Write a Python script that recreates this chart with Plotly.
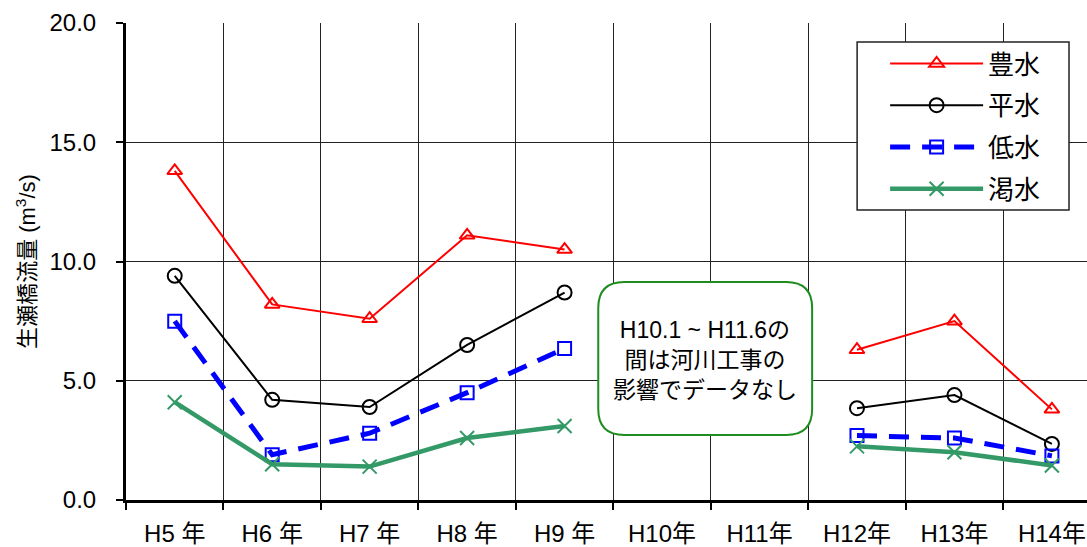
import plotly.graph_objects as go

categories = ["H5 年", "H6 年", "H7 年", "H8 年", "H9 年", "H10年", "H11年", "H12年", "H13年", "H14年"]
houSui = [13.8, 8.2, 7.6, 11.1, 10.5, None, None, 6.3, 7.5, 3.8]   # 豊水
heiSui = [9.4, 4.2, 3.9, 6.5, 8.7, None, None, 3.85, 4.4, 2.35]   # 平水
teiSui = [7.5, 1.9, 2.8, 4.5, 6.35, None, None, 2.7, 2.6, 1.85]   # 低水
katSui = [4.1, 1.5, 1.4, 2.6, 3.1, None, None, 2.25, 2.0, 1.45]   # 渇水
y_ticks = [0, 5, 10, 15, 20]
note = "H10.1 ~ H11.6の<br>間は河川工事の<br>影響でデータなし"

FONT = "Liberation Sans, Arial, Noto Sans CJK JP"
xs = list(range(len(categories)))

W, H = 1087, 547
L, T, B = 125.5, 23, 47
XMAX = 9.36
plot_w = W - L
plot_h = H - T - B
cat_w = plot_w / (XMAX + 0.5)

def px2x(px):
    return (px - L) / cat_w - 0.5

def py2y(py):
    return (H - B - py) / plot_h * 20

def px2paper(px):
    return (px - L) / plot_w

def py2paper(py):
    return (H - B - py) / plot_h

fig = go.Figure()
fig.add_trace(go.Scatter(
    x=xs, y=houSui, name="豊水", mode="lines+markers", legendgroup="a",
    line=dict(color="#FF0000", width=2),
    marker=dict(symbol="triangle-up-open", size=13, color="#FF0000", line=dict(width=2)),
))
fig.add_trace(go.Scatter(
    x=xs, y=heiSui, name="平水", mode="lines+markers", legendgroup="b",
    line=dict(color="#000000", width=2),
    marker=dict(symbol="circle-open", size=14, color="#000000", line=dict(width=2)),
))
fig.add_trace(go.Scatter(
    x=xs, y=teiSui, name="低水", mode="lines+markers", legendgroup="c",
    line=dict(color="#0000FF", width=5, dash="20px,12px"),
    marker=dict(symbol="square-open", size=13, color="#0000FF", line=dict(width=2)),
))
fig.add_trace(go.Scatter(
    x=xs, y=katSui, name="渇水", mode="lines+markers", legendgroup="d",
    line=dict(color="#339966", width=4.5),
    marker=dict(symbol="x-thin-open", size=14, color="#339966", line=dict(width=2, color="#339966")),
))

# rounded note box
x0, x1 = px2x(598), px2x(812)
y0, y1 = py2y(435), py2y(282)
r = 26
rx = r / cat_w
ry = r / plot_h * 20
path = (f"M{x0+rx},{y1} L{x1-rx},{y1} Q{x1},{y1} {x1},{y1-ry} "
        f"L{x1},{y0+ry} Q{x1},{y0} {x1-rx},{y0} L{x0+rx},{y0} "
        f"Q{x0},{y0} {x0},{y0+ry} L{x0},{y1-ry} Q{x0},{y1} {x0+rx},{y1} Z")
fig.add_shape(type="path", path=path, xref="x", yref="y",
              line=dict(color="#1E8C1E", width=2), fillcolor="white", layer="above")
fig.add_annotation(x=(x0 + x1) / 2, y=py2y(360), xref="x", yref="y",
                   text=note, showarrow=False,
                   font=dict(family=FONT, size=23, color="black"), align="center")

# legend frame
fig.add_shape(type="rect", xref="paper", yref="paper",
              x0=px2paper(857), x1=px2paper(1069), y0=py2paper(210), y1=py2paper(42),
              line=dict(color="#222222", width=1.5), fillcolor="white", layer="above")

fig.update_layout(
    width=W, height=H,
    margin=dict(l=L, r=0, t=T, b=B, pad=0),
    paper_bgcolor="white", plot_bgcolor="white",
    font=dict(family=FONT, size=24, color="black"),
    showlegend=True,
    legend=dict(
        x=px2paper(885), y=py2paper(40), xref="paper", yref="paper",
        font=dict(family=FONT, size=26, color="black"),
        borderwidth=0, bgcolor="rgba(0,0,0,0)",
        xanchor="left", yanchor="top", tracegroupgap=5, itemwidth=93,
    ),
)

fig.update_xaxes(
    range=[-0.5, XMAX], tickvals=xs, ticktext=categories, ticks="",
    showgrid=False, zeroline=False,
    showline=True, linecolor="black", linewidth=3,
    tickfont=dict(family=FONT, size=24, color="black"),
    ticklabelstandoff=10,
    minor=dict(tickvals=[i - 0.5 for i in xs], ticks="outside", ticklen=7, tickwidth=1.5,
               tickcolor="black", showgrid=True, gridcolor="#222222", gridwidth=1),
)
fig.update_yaxes(
    range=[0, 20], tickvals=y_ticks, ticktext=[f"{v:.1f}" for v in y_ticks],
    ticks="outside", ticklen=7, tickwidth=1.5, tickcolor="black",
    showgrid=True, gridcolor="#222222", gridwidth=1, zeroline=False,
    showline=True, linecolor="black", linewidth=3,
    tickfont=dict(family=FONT, size=24, color="black"),
    ticklabelstandoff=15,
    title=dict(text="生瀬橋流量 (m<sup>3</sup>/s)", font=dict(family=FONT, size=22, color="black"), standoff=8),
)

fig.write_html("out.html")
